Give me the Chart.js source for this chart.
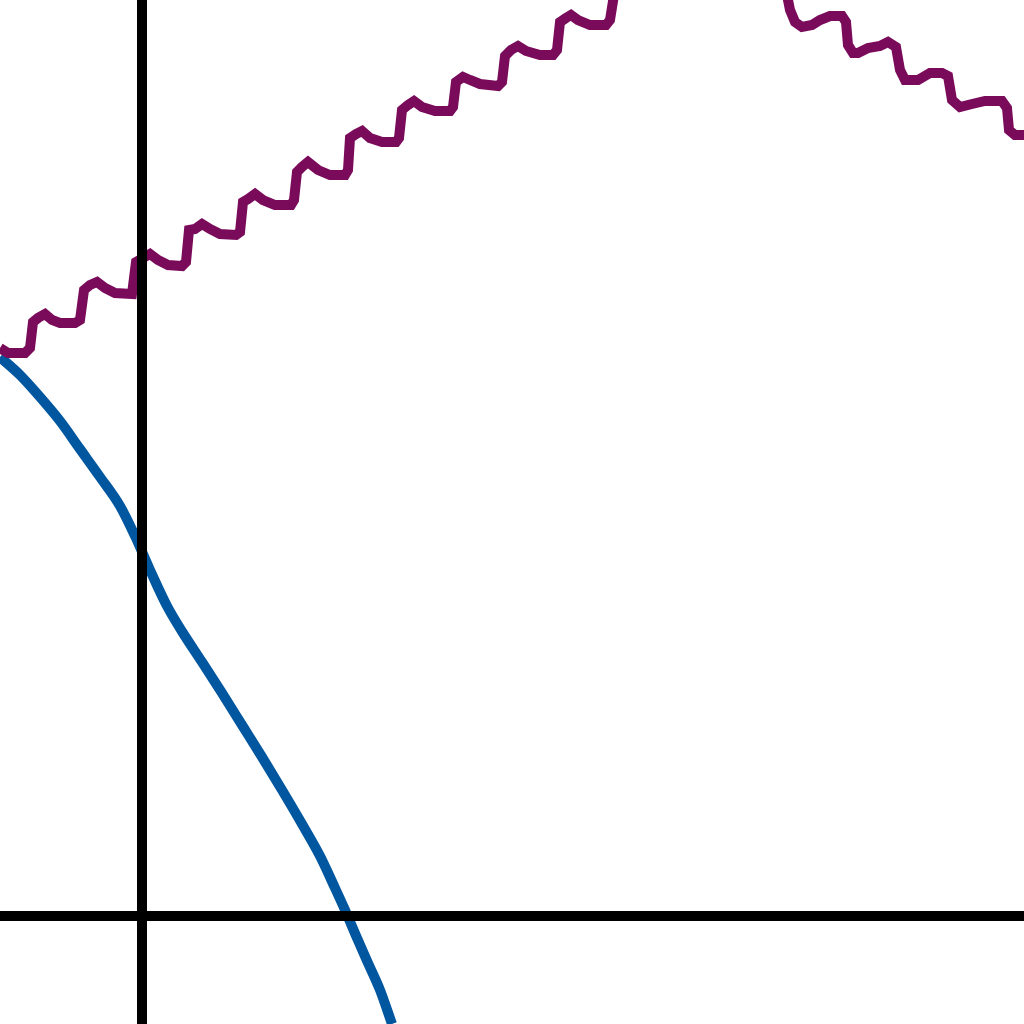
<!DOCTYPE html>
<html>
<head>
<meta charset="utf-8">
<script src="https://cdn.jsdelivr.net/npm/chart.js@4/dist/chart.umd.min.js"></script>
<style>
  html, body { margin: 0; padding: 0; background: #ffffff; }
  #wrap { width: 1024px; height: 1024px; }
</style>
</head>
<body>
<div id="wrap"><canvas id="c" width="1024" height="1024"></canvas></div>
<script>
// Purple curve (x, y)
const purpleX = [-1.42,-1.34,-1.17,-1.12,-1.09,-1.04,-0.97,-0.90,-0.82,-0.67,-0.62,-0.58,-0.52,-0.45,-0.37,-0.27,-0.10,-0.06,0.08,0.16,0.26,0.40,0.44,0.47,0.53,0.60,0.68,0.78,0.94,0.98,1.01,1.06,1.13,1.21,1.33,1.49,1.52,1.55,1.60,1.66,1.76,1.88,2.03,2.06,2.08,2.14,2.20,2.28,2.40,2.54,2.57,2.60,2.66,2.72,2.80,2.93,3.08,3.11,3.14,3.21,3.28,3.38,3.56,3.60,3.63,3.69,3.76,3.84,3.98,4.11,4.15,4.18,4.24,4.29,4.36,4.48,4.64,4.68,4.72,4.78,4.84,4.92,5.03,5.18,5.22,5.25,5.33,5.48,5.73,5.88,5.95,5.98,6.03,6.25,6.38,6.44,6.48,6.53,6.60,6.70,6.78,6.88,7.00,7.04,7.06,7.11,7.16,7.26,7.38,7.46,7.54,7.58,7.63,7.76,7.88,8.00,8.06,8.10,8.18,8.30,8.43,8.60,8.65,8.67,8.73,8.82];
const purpleY = [5.68,5.63,5.63,5.68,5.94,5.98,6.02,5.96,5.93,5.93,5.96,6.26,6.31,6.34,6.28,6.23,6.22,6.54,6.62,6.56,6.51,6.50,6.54,6.86,6.87,6.92,6.87,6.82,6.81,6.84,7.14,7.17,7.22,7.16,7.11,7.11,7.16,7.44,7.49,7.54,7.46,7.41,7.41,7.46,7.78,7.82,7.85,7.78,7.74,7.74,7.78,8.06,8.11,8.15,8.09,8.05,8.05,8.09,8.34,8.39,8.36,8.32,8.30,8.34,8.60,8.66,8.70,8.65,8.61,8.61,8.66,8.94,8.98,9.01,8.96,8.91,8.91,8.96,9.21,9.26,9.31,9.25,9.21,9.21,9.26,9.48,9.54,9.50,9.50,9.54,9.48,9.26,9.21,9.21,9.25,9.26,9.06,8.94,8.89,8.91,8.96,9.00,9.00,8.94,8.71,8.63,8.63,8.68,8.70,8.74,8.69,8.46,8.36,8.36,8.43,8.43,8.40,8.16,8.09,8.12,8.15,8.15,8.08,7.86,7.81,7.81];

// Blue curve (x, y)
const blueX = [-1.42,-1.22,-1.02,-0.82,-0.62,-0.42,-0.22,-0.07,0.08,0.25,0.41,0.60,0.80,1.00,1.20,1.40,1.60,1.78,1.93,2.03,2.15,2.26,2.38,2.50];
const blueY = [5.59,5.41,5.19,4.95,4.67,4.39,4.10,3.80,3.46,3.10,2.83,2.54,2.23,1.91,1.59,1.26,0.92,0.60,0.28,0.06,-0.22,-0.47,-0.74,-1.08];

// Visible window of the plane
const xRange = [-1.42, 8.82];
const yRange = [-1.08, 9.16];

const toPoints = (xs, ys) => xs.map((x, i) => ({ x: x, y: ys[i] }));

const axesPlugin = {
  id: 'zeroAxes',
  afterDatasetsDraw(chart) {
    const { ctx, scales } = chart;
    const x0 = scales.x.getPixelForValue(0);
    const y0 = scales.y.getPixelForValue(0);
    ctx.save();
    ctx.strokeStyle = '#000000';
    ctx.lineWidth = 10;
    ctx.beginPath();
    ctx.moveTo(x0, 0);
    ctx.lineTo(x0, chart.height);
    ctx.moveTo(0, y0);
    ctx.lineTo(chart.width, y0);
    ctx.stroke();
    ctx.restore();
  }
};

new Chart(document.getElementById('c'), {
  type: 'scatter',
  data: {
    datasets: [
      {
        label: 'purple',
        data: toPoints(purpleX, purpleY),
        showLine: true,
        borderColor: '#7a0a5a',
        backgroundColor: '#7a0a5a',
        borderWidth: 10,
        pointRadius: 0,
        tension: 0,
        borderJoinStyle: 'miter',
        clip: false
      },
      {
        label: 'blue',
        data: toPoints(blueX, blueY),
        showLine: true,
        borderColor: '#0057a0',
        backgroundColor: '#0057a0',
        borderWidth: 10,
        pointRadius: 0,
        cubicInterpolationMode: 'monotone',
        clip: false
      }
    ]
  },
  options: {
    responsive: false,
    devicePixelRatio: 1,
    animation: false,
    layout: { padding: 0 },
    plugins: { legend: { display: false }, tooltip: { enabled: false } },
    scales: {
      x: { type: 'linear', display: false, min: xRange[0], max: xRange[1] },
      y: { type: 'linear', display: false, min: yRange[0], max: yRange[1] }
    }
  },
  plugins: [axesPlugin]
});
</script>
</body>
</html>
